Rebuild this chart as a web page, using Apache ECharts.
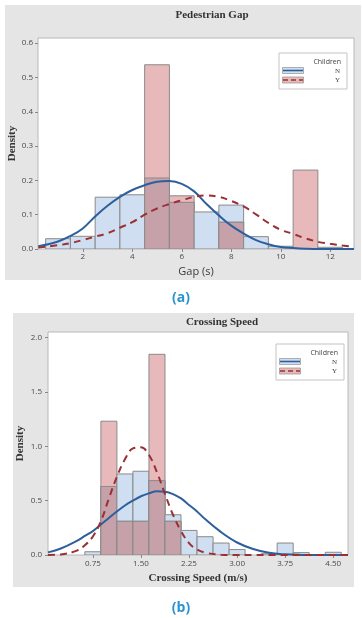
<!DOCTYPE html>
<html>
<head>
<meta charset="utf-8">
<script src="https://cdn.jsdelivr.net/npm/echarts@6/dist/echarts.min.js"></script>
<style>
  html, body { margin: 0; padding: 0; background: #fff; }
  #chart { width: 362px; height: 618px; }
</style>
</head>
<body>
<div id="chart"></div>
<script>
// (a) Pedestrian Gap - histogram bins of 1 s, centred on the integers
const gapBins = [1, 2, 3, 4, 5, 6, 7, 8, 9, 10, 11, 12];
const gapN = [0.03, 0.037, 0.151, 0.158, 0.207, 0.136, 0.108, 0.128, 0.036, 0.008, 0, 0.005];
const gapY = [0, 0, 0, 0, 0.537, 0.155, 0, 0.078, 0, 0, 0.23, 0];
// fitted density curves
const gapCurveX = [0.2, 1, 1.5, 2, 2.5, 3, 3.5, 4, 4.5, 5, 5.5, 6, 6.5, 7, 7.5, 8, 8.5, 9, 9.5, 10, 10.5, 11, 11.5, 12, 12.5, 12.96];
const gapCurveN = [0.008, 0.022, 0.038, 0.06, 0.095, 0.126, 0.152, 0.172, 0.186, 0.196, 0.198, 0.19, 0.168, 0.131, 0.098, 0.068, 0.045, 0.026, 0.014, 0.006, 0.003, 0.001, 0, 0, 0, 0];
const gapCurveY = [0.004, 0.011, 0.017, 0.026, 0.036, 0.046, 0.062, 0.078, 0.1, 0.118, 0.131, 0.142, 0.152, 0.156, 0.152, 0.14, 0.124, 0.101, 0.076, 0.056, 0.044, 0.031, 0.021, 0.015, 0.01, 0.006];
const gapTicks = [2, 4, 6, 8, 10, 12];
const gapDensityTicks = [0, 0.1, 0.2, 0.3, 0.4, 0.5, 0.6];

// (b) Crossing Speed - histogram bins of 0.25 m/s
const speedBins = [0.75, 1, 1.25, 1.5, 1.75, 2, 2.25, 2.5, 2.75, 3, 3.25, 3.5, 3.75, 4, 4.25, 4.5];
const speedN = [0.03, 0.63, 0.745, 0.77, 0.684, 0.37, 0.226, 0.168, 0.11, 0.05, 0, 0.012, 0.11, 0.022, 0, 0.025];
const speedY = [0, 1.23, 0.31, 0.31, 1.845, 0.31, 0, 0, 0, 0, 0, 0, 0, 0, 0, 0];
const speedCurveX = [0.05, 0.25, 0.5, 0.625, 0.75, 0.875, 1, 1.125, 1.25, 1.375, 1.5, 1.625, 1.75, 1.875, 2, 2.125, 2.25, 2.375, 2.5, 2.75, 3, 3.25, 3.5, 3.75, 4, 4.25, 4.73];
const speedCurveN = [0.024, 0.06, 0.13, 0.175, 0.22, 0.28, 0.34, 0.4, 0.455, 0.5, 0.54, 0.567, 0.586, 0.582, 0.56, 0.52, 0.46, 0.4, 0.33, 0.21, 0.115, 0.055, 0.02, 0.006, 0.001, 0, 0];
const speedCurveY = [0, 0.005, 0.04, 0.09, 0.17, 0.31, 0.52, 0.72, 0.88, 0.98, 0.99, 0.92, 0.76, 0.56, 0.37, 0.22, 0.11, 0.05, 0.022, 0.003, 0, 0, 0, 0, 0, 0, 0];
const speedTicks = [0.75, 1.5, 2.25, 3, 3.75, 4.5];
const speedDensityTicks = [0, 0.5, 1, 1.5, 2];

const legendTitle = "Children";
const groups = ["N", "Y"];

const blueFill = "#cfdef0";
const pinkFill = "#e8b9ba";
const overlapFill = "#c6a1aa";
const barStroke = "#8a8a8a";
const blueLine = "#2e5f9d";
const redLine = "#9b2f33";
const panelGray = "#e5e5e5";
const captionBlue = "#2b93d1";

// draws both groups of one bin; overlap painted in a mixed colour
function histItem(width) {
  return function (params, api) {
    const x = api.value(0);
    const n = api.value(1);
    const y = api.value(2);
    const rect = (h) => {
      const p0 = api.coord([x - width / 2, h]);
      const p1 = api.coord([x + width / 2, 0]);
      return { x: p0[0], y: p0[1], width: p1[0] - p0[0], height: p1[1] - p0[1] };
    };
    const children = [];
    if (n > 0) children.push({ type: "rect", shape: rect(n), style: { fill: blueFill, stroke: barStroke, lineWidth: 1 } });
    if (y > 0) children.push({ type: "rect", shape: rect(y), style: { fill: pinkFill, stroke: barStroke, lineWidth: 1 } });
    if (n > 0 && y > 0) children.push({ type: "rect", shape: rect(Math.min(n, y)), style: { fill: overlapFill, stroke: barStroke, lineWidth: 1 } });
    return { type: "group", children };
  };
}

const tickLabel = { fontSize: 8, color: "#4a4a4a", fontFamily: "Open Sans" };
const serifBold = { fontFamily: "Liberation Serif", fontWeight: "bold", color: "#333" };

function xAxisFor(gridIndex, min, max, ticks, name, nameStyle, nameGap, margin, fmt) {
  return {
    gridIndex, type: "value", min, max,
    axisLine: { show: false },
    splitLine: { show: false },
    axisTick: { show: true, customValues: ticks, length: 3, lineStyle: { color: "#888" } },
    axisLabel: { customValues: ticks, margin, formatter: fmt, ...tickLabel },
    name, nameLocation: "middle", nameGap, nameMoveOverlap: false, nameTextStyle: nameStyle,
  };
}

function yAxisFor(gridIndex, max, ticks, nameGap, margin) {
  return {
    gridIndex, type: "value", min: 0, max,
    axisLine: { show: false },
    splitLine: { show: false },
    axisTick: { show: true, customValues: ticks, length: 3, lineStyle: { color: "#888" } },
    axisLabel: { customValues: ticks, margin, formatter: (v) => v.toFixed(1), ...tickLabel },
    name: "Density", nameLocation: "middle", nameGap, nameMoveOverlap: false,
    nameTextStyle: { fontSize: 11, ...serifBold },
  };
}

function legendBox(left, top) {
  const w = 68, rowH = 9.5;
  const els = [
    { type: "rect", shape: { x: left, y: top, width: w, height: 36 }, style: { fill: "#fff", stroke: "#c4c4c4", lineWidth: 1 } },
    { type: "text", x: left + w - 6, y: top + 9, style: { text: legendTitle, fontSize: 7, fill: "#444", fontFamily: "Open Sans", align: "right", verticalAlign: "middle" } },
  ];
  groups.forEach((g, i) => {
    const yy = top + 17 + i * rowH;
    const fill = i === 0 ? blueFill : pinkFill;
    const line = i === 0 ? blueLine : redLine;
    els.push({ type: "rect", shape: { x: left + 3.5, y: yy - 2.5, width: 21, height: 6 }, style: { fill, stroke: "#9a9a9a", lineWidth: 0.8 } });
    els.push({ type: "line", shape: { x1: left + 4, y1: yy + 0.5, x2: left + 24, y2: yy + 0.5 }, style: { stroke: line, lineWidth: 1.6, lineDash: i === 0 ? null : [5, 3] } });
    els.push({ type: "text", x: left + w - 7, y: yy + 1, style: { text: g, fontSize: 7, fill: "#444", fontFamily: "Liberation Serif", align: "right", verticalAlign: "middle" } });
  });
  return els;
}

const chart = echarts.init(document.getElementById("chart"), null, { renderer: "canvas" });

const option = {
  animation: false,
  backgroundColor: "#fff",
  grid: [
    { left: 38, top: 38, width: 316, height: 211, outerBoundsMode: "none", show: true, backgroundColor: "#fff", borderColor: "#b8b8b8", borderWidth: 1 },
    { left: 48, top: 332, width: 300, height: 223, outerBoundsMode: "none", show: true, backgroundColor: "#fff", borderColor: "#b8b8b8", borderWidth: 1 },
  ],
  xAxis: [
    xAxisFor(0, 0.19, 12.96, gapTicks, "Gap (s)", { fontSize: 11, color: "#3a3a3a", fontFamily: "Open Sans" }, 17, 4, (v) => String(v)),
    xAxisFor(1, 0.05, 4.73, speedTicks, "Crossing Speed (m/s)", { fontSize: 11, ...serifBold }, 18, 5, (v) => v.toFixed(2)),
  ],
  yAxis: [
    yAxisFor(0, 0.615, gapDensityTicks, 20, 5),
    yAxisFor(1, 2.05, speedDensityTicks, 22, 6),
  ],
  graphic: [
    { type: "rect", z: -10, shape: { x: 5, y: 5, width: 356, height: 275 }, style: { fill: panelGray } },
    { type: "rect", z: -10, shape: { x: 13, y: 313, width: 341, height: 274 }, style: { fill: panelGray } },
    { type: "text", x: 212, y: 15, style: { text: "Pedestrian Gap", fontSize: 11, ...serifBold, fill: "#333", align: "center", verticalAlign: "middle" } },
    { type: "text", x: 222, y: 322, style: { text: "Crossing Speed", fontSize: 11, ...serifBold, fill: "#333", align: "center", verticalAlign: "middle" } },
    { type: "text", x: 181, y: 298, style: { text: "(a)", fontSize: 14, fontWeight: "bold", fontFamily: "Open Sans", fill: captionBlue, align: "center", verticalAlign: "middle" } },
    { type: "text", x: 181, y: 608, style: { text: "(b)", fontSize: 14, fontWeight: "bold", fontFamily: "Open Sans", fill: captionBlue, align: "center", verticalAlign: "middle" } },
    ...legendBox(279, 53),
    ...legendBox(276, 344),
  ],
  series: [
    {
      type: "custom", xAxisIndex: 0, yAxisIndex: 0, clip: true,
      renderItem: histItem(1), encode: { x: 0, y: [1, 2] },
      data: gapBins.map((b, i) => [b, gapN[i], gapY[i]]),
    },
    {
      type: "line", xAxisIndex: 0, yAxisIndex: 0, name: "N", smooth: 0.4, showSymbol: false, z: 5,
      lineStyle: { color: blueLine, width: 2 },
      data: gapCurveX.map((x, i) => [x, gapCurveN[i]]),
    },
    {
      type: "line", xAxisIndex: 0, yAxisIndex: 0, name: "Y", smooth: 0.4, showSymbol: false, z: 5,
      lineStyle: { color: redLine, width: 2, type: [7, 5] },
      data: gapCurveX.map((x, i) => [x, gapCurveY[i]]),
    },
    {
      type: "custom", xAxisIndex: 1, yAxisIndex: 1, clip: true,
      renderItem: histItem(0.25), encode: { x: 0, y: [1, 2] },
      data: speedBins.map((b, i) => [b, speedN[i], speedY[i]]),
    },
    {
      type: "line", xAxisIndex: 1, yAxisIndex: 1, name: "N", smooth: 0.4, showSymbol: false, z: 5,
      lineStyle: { color: blueLine, width: 2 },
      data: speedCurveX.map((x, i) => [x, speedCurveN[i]]),
    },
    {
      type: "line", xAxisIndex: 1, yAxisIndex: 1, name: "Y", smooth: 0.4, showSymbol: false, z: 5,
      lineStyle: { color: redLine, width: 2, type: [7, 5] },
      data: speedCurveX.map((x, i) => [x, speedCurveY[i]]),
    },
  ],
};

chart.setOption(option);
window.addEventListener("resize", () => chart.resize());
</script>
</body>
</html>
